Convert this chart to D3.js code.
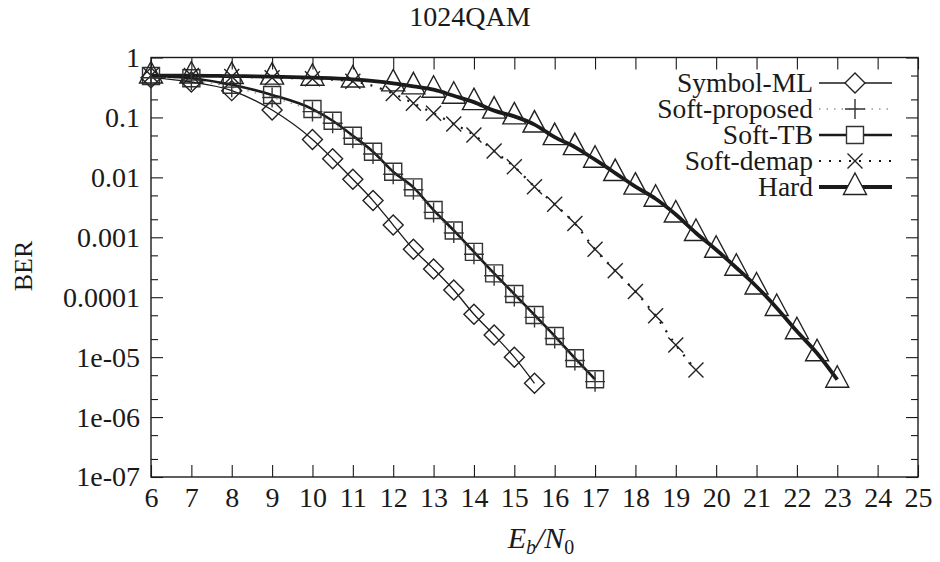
<!DOCTYPE html>
<html><head><meta charset="utf-8">
<script src="https://cdn.jsdelivr.net/npm/d3@7"></script>
<style>body{margin:0;background:#fff}svg{display:block}
text{font-family:"Liberation Serif","Times New Roman","DejaVu Serif",serif}</style>
</head><body><svg id="c" width="940" height="562"></svg>
<script>
const title = "1024QAM";
const xTicks = [6,7,8,9,10,11,12,13,14,15,16,17,18,19,20,21,22,23,24,25];
const yTicks = [1,0.1,0.01,0.001,0.0001,1e-5,1e-6,1e-7];
const yTickLabels = ["1","0.1","0.01","0.001","0.0001","1e-05","1e-06","1e-07"];
const seriesNames = ["Symbol-ML","Soft-proposed","Soft-TB","Soft-demap","Hard"];

const xML = [6,7,8,9,10,10.5,11,11.5,12,12.5,13,13.5,14,14.5,15,15.5];
const berML = [0.46,0.39,0.28,0.133,0.043,0.0205,0.0093,0.0041,0.0016,0.00063,0.000296,0.000132,5.2e-5,2.34e-5,1.0e-5,3.66e-6];

const xTB = [6,7,8,9,10,10.5,11,11.5,12,12.5,13,13.5,14,14.5,15,15.5,16,16.5,17];
const berTB = [0.49,0.45,0.35,0.237,0.138,0.088,0.0496,0.0268,0.0124,0.0068,0.00285,0.0013,0.00057,0.00025,0.000113,5.05e-5,2.25e-5,9.6e-6,4.27e-6];

const xSP = [6,7,8,9,10,10.5,11,11.5,12,12.5,13,13.5,14,14.5,15,15.5,16,16.5,17];
const berSP = [0.46,0.42,0.32,0.215,0.125,0.08,0.045,0.0245,0.0113,0.0062,0.0026,0.00118,0.00052,0.000228,0.000103,4.6e-5,2.05e-5,8.8e-6,3.9e-6];

const xDM = [6,7,8,9,10,11,12,12.5,13,13.5,14,14.5,15,15.5,16,16.5,17,17.5,18,18.5,19,19.5];
const berDM = [0.5,0.5,0.48,0.46,0.44,0.4,0.25,0.172,0.117,0.078,0.051,0.0275,0.015,0.007,0.00355,0.0017,0.00063,0.000277,0.000124,4.9e-5,1.6e-5,6.1e-6];

const xHD = [6,7,8,9,10,11,12,12.5,13,13.5,14,14.5,15,15.5,16,16.5,17,17.5,18,18.5,19,19.5,20,20.5,21,21.5,22,22.5,23];
const berHD = [0.5,0.5,0.49,0.48,0.46,0.43,0.37,0.33,0.29,0.23,0.18,0.13,0.104,0.076,0.047,0.032,0.0197,0.0118,0.007,0.0044,0.0024,0.00118,0.00062,0.00031,0.000151,6.6e-5,2.7e-5,1.16e-5,4.2e-6];

const svg = d3.select("#c");
const L = 151, R = 918, T = 57.5, B = 477;
const x = d3.scaleLinear().domain([6,25]).range([L,R]);
const y = d3.scaleLog().domain([1e-7,1]).range([B,T]);
const ink = "#1a1a1a";
const FONT = "Liberation Serif";
const TICKFS = 28;

const minor = [];
for (let e=-7;e<0;e++){ minor.push(2*Math.pow(10,e)); minor.push(5*Math.pow(10,e)); }

function styleAxis(g){
  g.attr("font-family",FONT);
  g.selectAll(".domain").remove();
  g.selectAll("line").attr("stroke",ink).attr("stroke-width",1.1);
  g.selectAll("text").attr("font-family",FONT).attr("font-size",TICKFS).attr("fill",ink);
}
svg.append("g").attr("transform",`translate(0,${B})`)
  .call(d3.axisBottom(x).tickValues(xTicks).tickSize(-12).tickPadding(10).tickFormat(d3.format("d")))
  .call(styleAxis);
svg.append("g").attr("transform",`translate(0,${T})`)
  .call(d3.axisTop(x).tickValues(xTicks).tickSize(-12).tickFormat(""))
  .call(styleAxis);
svg.append("g").attr("transform",`translate(${L},0)`)
  .call(d3.axisLeft(y).tickValues(yTicks).tickSize(-12).tickPadding(11).tickFormat((d,i)=>yTickLabels[i]))
  .call(styleAxis);
svg.append("g").attr("transform",`translate(${L},0)`)
  .call(d3.axisLeft(y).tickValues(minor).tickSize(-7).tickFormat(""))
  .call(styleAxis);
svg.append("g").attr("transform",`translate(${R},0)`)
  .call(d3.axisRight(y).tickValues(yTicks).tickSize(-12).tickFormat(""))
  .call(styleAxis);
svg.append("g").attr("transform",`translate(${R},0)`)
  .call(d3.axisRight(y).tickValues(minor).tickSize(-7).tickFormat(""))
  .call(styleAxis);
svg.append("rect").attr("x",L).attr("y",T).attr("width",R-L).attr("height",B-T)
  .attr("fill","none").attr("stroke",ink).attr("stroke-width",1.4);

function mk(type,cx,cy){
  switch(type){
    case "diamond": {const s=10; return `M${cx},${cy-s}L${cx+s},${cy}L${cx},${cy+s}L${cx-s},${cy}Z`;}
    case "plus": {const s=10; return `M${cx-s},${cy}H${cx+s}M${cx},${cy-s}V${cy+s}`;}
    case "square": {const s=8.5; return `M${cx-s},${cy-s}H${cx+s}V${cy+s}H${cx-s}Z`;}
    case "cross": {const s=7.5; return `M${cx-s},${cy-s}L${cx+s},${cy+s}M${cx+s},${cy-s}L${cx-s},${cy+s}`;}
    case "triangle": {const s=11.5; return `M${cx},${cy-14}L${cx+s},${cy+7.5}L${cx-s},${cy+7.5}Z`;}
  }
}
const series = [
  {name:seriesNames[0], xs:xML, ys:berML, marker:"diamond", lw:1.3, color:ink, dash:null, mcolor:"#222"},
  {name:seriesNames[1], xs:xSP, ys:berSP, marker:"plus", lw:1.4, color:"#9a9a9a", dash:"1.5,6", mcolor:"#333"},
  {name:seriesNames[2], xs:xTB, ys:berTB, marker:"square", lw:2.6, color:ink, dash:null, mcolor:"#333"},
  {name:seriesNames[3], xs:xDM, ys:berDM, marker:"cross", lw:2.2, color:ink, dash:"2,8", mcolor:"#222"},
  {name:seriesNames[4], xs:xHD, ys:berHD, marker:"triangle", lw:3.8, color:ink, dash:null, mcolor:"#222"}
];
const line = d3.line().x(d=>x(d[0])).y(d=>y(d[1])).curve(d3.curveMonotoneX);
const drawOrder = [2,0,4,3,1];
drawOrder.forEach(i=>{
  const s = series[i];
  const pts = s.xs.map((v,k)=>[v,s.ys[k]]);
  svg.append("path").attr("d",line(pts)).attr("fill","none")
    .attr("stroke",s.color).attr("stroke-width",s.lw)
    .attr("stroke-dasharray",s.dash);
});
drawOrder.forEach(i=>{
  const s = series[i];
  svg.append("g").selectAll("path").data(s.xs.map((v,k)=>[v,s.ys[k]])).join("path")
    .attr("d",d=>mk(s.marker,x(d[0]),y(d[1])))
    .attr("fill","none").attr("stroke",s.mcolor).attr("stroke-width",1.4);
});

const legY = [83,109,135,161,187];
series.forEach((s,i)=>{
  const g = svg.append("g");
  g.append("text").attr("x",813).attr("y",legY[i]).attr("dy","0.33em")
    .attr("text-anchor","end").attr("font-family",FONT).attr("font-size",27.5).attr("fill",ink).text(s.name);
  g.append("path").attr("d",`M819,${legY[i]}H892`).attr("stroke",s.color)
    .attr("stroke-width",s.lw).attr("stroke-dasharray",s.dash).attr("fill","none");
  g.append("path").attr("d",mk(s.marker,855,legY[i])).attr("fill","#fff").attr("stroke",s.mcolor).attr("stroke-width",1.4);
});

svg.append("text").attr("x",470).attr("y",26).attr("text-anchor","middle")
  .attr("font-family",FONT).attr("font-size",28).attr("fill",ink).text(title);
svg.append("text").attr("transform","translate(32,266) rotate(-90)").attr("text-anchor","middle")
  .attr("font-family",FONT).attr("font-size",26).attr("fill",ink).text("BER");
const xl = svg.append("text").attr("x",541).attr("y",548).attr("text-anchor","middle")
  .attr("font-family",FONT).attr("font-size",30).attr("font-style","italic").attr("fill",ink);
xl.append("tspan").text("E");
xl.append("tspan").attr("font-size",20).attr("dy",6).text("b");
xl.append("tspan").attr("dy",-6).text("/N");
xl.append("tspan").attr("font-size",20).attr("font-style","normal").attr("dy",6).text("0");
</script></body></html>
